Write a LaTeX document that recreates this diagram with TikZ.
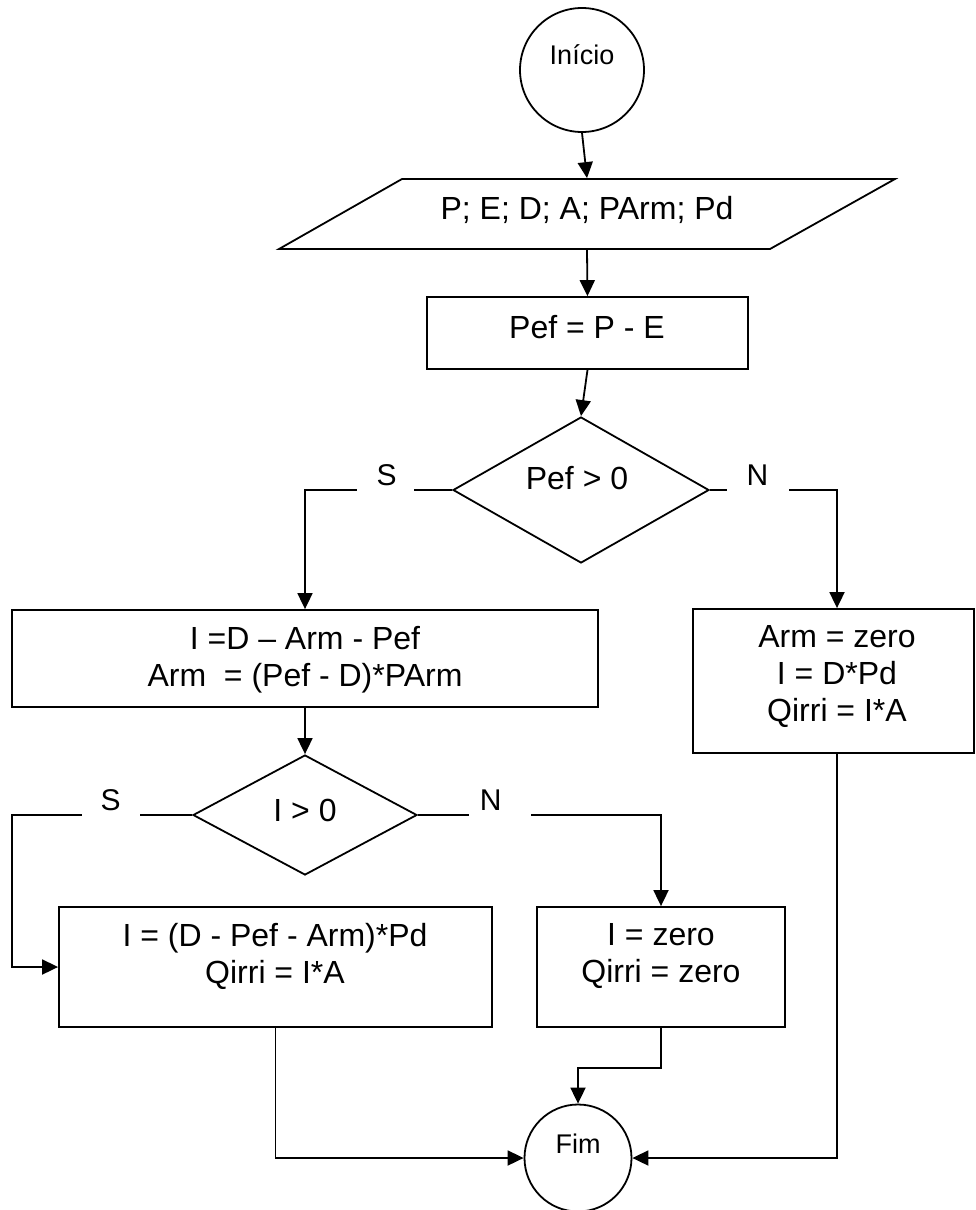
\documentclass[tikz,border=0pt]{standalone}
\usepackage{fontspec}
\setmainfont{Liberation Sans}
\usetikzlibrary{arrows.meta,shapes.geometric}
\begin{document}
\begin{tikzpicture}[x=1pt,y=-1pt,
  line width=1.8pt,
  every node/.style={inner sep=0pt},
  arr/.style={-{Triangle[length=16pt,width=15pt]}},
  txt/.style={font=\fontsize{32}{37}\selectfont, align=center},
  termtxt/.style={font=\fontsize{27}{30}\selectfont},
  lab/.style={font=\fontsize{30}{32}\selectfont},
  term/.style={circle, draw, minimum size=#1},
  proc/.style={rectangle, draw},
  decision/.style={diamond, draw},
  gap/.style={fill=white, minimum height=5pt, minimum width=#1}
]
\useasboundingbox (0,0) rectangle (975,1210);
\fill[white] (0,0) rectangle (975,1210);

% terminals
\node[term=124pt] (ini) at (582,70) {};
\node[termtxt] (tini) at (582,55) {Início};
\node[term=107pt] (fim) at (578,1158) {};
\node[termtxt] (tfim) at (578,1144) {Fim};

% data input (parallelogram)
\node[minimum width=368pt, minimum height=70pt] (param) at (587,214) {};
\draw (402,179) -- (895,179) -- (770,249) -- (279,249) -- cycle;
\node[txt] (tparam) at (587,210) {P; E; D; A; PArm; Pd};

% processes
\node[proc, minimum width=321pt, minimum height=72pt] (pef) at (587.5,333) {};
\node[txt] (tpef) at (587,327) {Pef = P - E};

\node[proc, minimum width=586pt, minimum height=97pt] (balance) at (305,658.5) {};
\node[txt] (tbalance) at (305,660) {I =D – Arm - Pef\\Arm\ \ = (Pef - D)*PArm};

\node[proc, minimum width=281pt, minimum height=144pt] (arm) at (833.5,681) {};
\node[txt] (tarm) at (837,677) {Arm = zero\\I = D*Pd\\Qirri = I*A};

\node[proc, minimum width=433pt, minimum height=120pt] (irr) at (275.5,967) {};
\node[txt] (tirr) at (275,956) {I = (D - Pef - Arm)*Pd\\Qirri = I*A};

\node[proc, minimum width=248pt, minimum height=120pt] (zero) at (661,967) {};
\node[txt] (tzero) at (661,956) {I = zero\\Qirri = zero};

% decisions
\node[decision, minimum width=256pt, minimum height=146pt] (d1) at (581,490) {};
\node[txt] (td1) at (577,478) {Pef > 0};
\node[decision, minimum width=224pt, minimum height=120pt] (d2) at (305,815) {};
\node[txt] (td2) at (305,810) {I > 0};

% anchors for the offset connectors
\coordinate (armin) at ([xshift=3.5pt]arm.north);
\coordinate (armout) at ([xshift=3.5pt]arm.south);
\coordinate (rail) at (12,0);

% connectors
\draw[arr] (ini.south) -- (param.north);
\draw[arr] (param.south) -- (pef.north);
\draw[arr] (pef.south) -- (d1.north);
\draw[arr] (d1.west) -- node[gap=57pt, pos=.456, label={[lab,xshift=1.5pt]above:S}] (gs1) {} (balance.north |- d1.west) -- (balance.north);
\draw[arr] (d1.east) -- node[gap=62pt, pos=.375, label={[lab]above:N}] (gn1) {} (armin |- d1.east) -- (armin);
\draw[arr] (balance.south) -- (d2.north);
\draw[arr] (d2.west) -- node[gap=58pt, pos=.453, label={[lab]above:S}] (gs2) {} (d2.west -| rail) |- (irr.west);
\draw[arr] (d2.east) -- node[gap=62pt, pos=.336, label={[lab,xshift=-9pt]above:N}] (gn2) {} (zero.north |- d2.east) -- (zero.north);
\draw[arr] (irr.south) |- (fim.west);
\draw[arr] (zero.south) -- ++(0,40) -| (fim.north);
\draw[arr] (armout) |- (fim.east);
\end{tikzpicture}
\end{document}
